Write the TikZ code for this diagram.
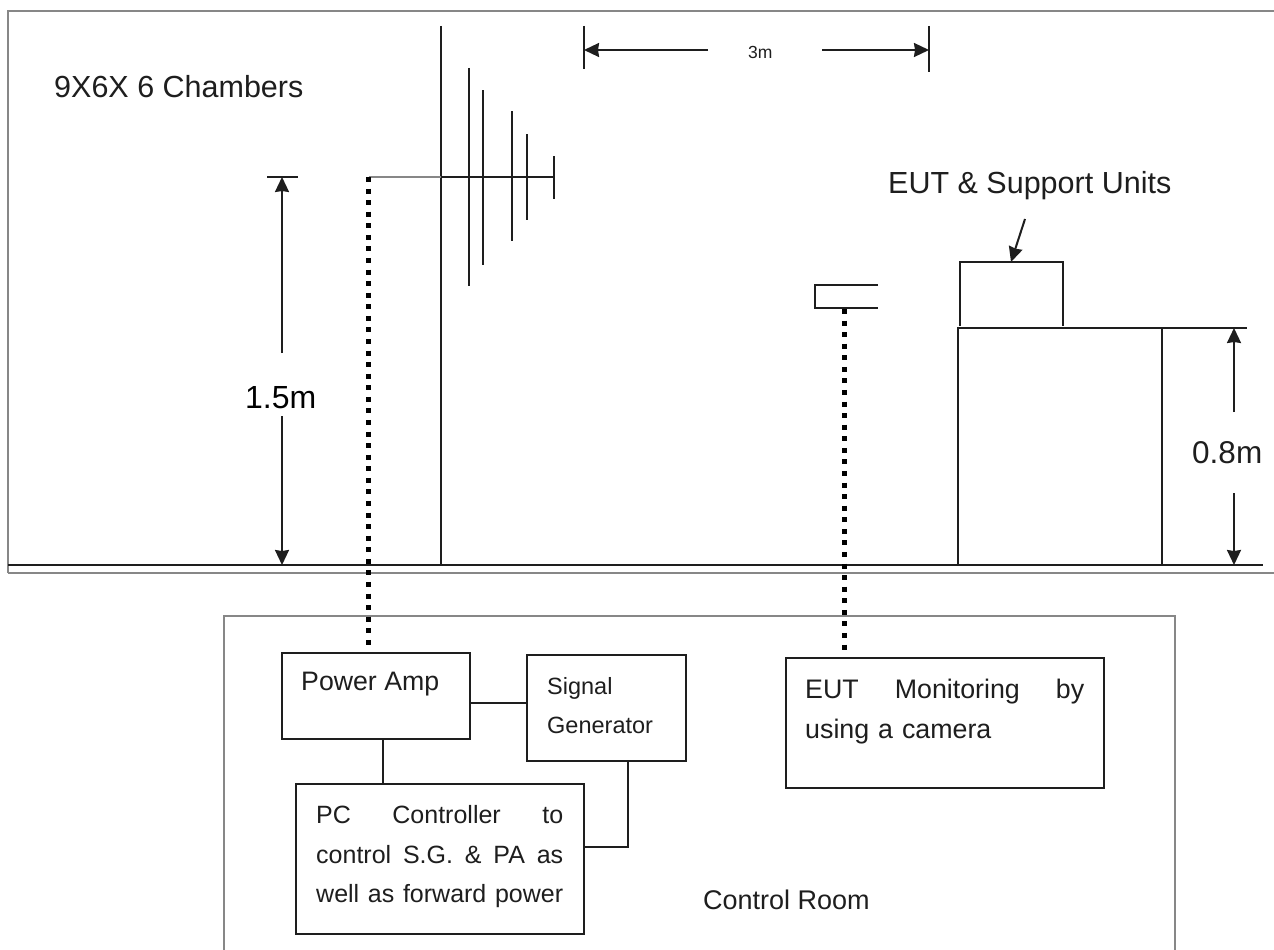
\documentclass[tikz,border=0pt]{standalone}
\usepackage{fontspec}
\setmainfont{Liberation Sans}
\usepackage{tikz}
\usetikzlibrary{arrows.meta}
\definecolor{wallgray}{RGB}{135, 135, 135}
\definecolor{inkblack}{RGB}{30, 30, 30}
\tikzset{
    boxnode/.style={draw=inkblack, line width=2pt, inner sep=0pt, anchor=north west},
    labelnode/.style={color=inkblack, inner sep=0pt, anchor=west},
    wire/.style={draw=inkblack, line width=2pt},
    wallline/.style={draw=wallgray, line width=2pt},
    feedline/.style={line width=5pt, color=black, dash pattern=on 5pt off 6.57pt, line cap=butt},
    dimarrow/.style={draw=inkblack, line width=2pt, -{Stealth[length=15pt, width=14pt, inset=1pt]}},
}
\begin{document}
\begin{tikzpicture}[x=1pt, y=-1pt]
    \useasboundingbox (0, 0) rectangle (1274, 950);
    \fill[white] (0, 0) rectangle (1274, 950);

    % Chamber walls and floor
    \draw[wallline] (8, 573) -- (8, 11) -- (1274, 11);
    \draw[wire] (8, 565) -- (1263, 565);
    \draw[wallline] (8, 573) -- (1274, 573);
    \node[labelnode, font=\fontsize{30.5}{34}\selectfont] (chamberlabel) at (54, 87) {9X6X 6 Chambers};

    % Antenna
    \coordinate (feedtop) at (368.5, 177);
    \draw[wire] (441, 26) -- (441, 565);
    \draw[wallline] (feedtop) -- (441, 177);
    \draw[wire] (441, 177) -- (554, 177);
    \foreach \x/\ytop/\ybot in {469/68/286, 483/90/265, 512/111/241, 527/134/220, 554/156/199} {
        \draw[wire] (\x, \ytop) -- (\x, \ybot);
    }

    % 3m dimension
    \coordinate (leftstop) at (584, 50);
    \coordinate (rightstop) at (929, 50);
    \draw[wire] (584, 26) -- (584, 69);
    \draw[wire] (929, 26) -- (929, 72);
    \node[labelnode, font=\fontsize{17.5}{20}\selectfont] (spacinglabel) at (748, 52) {3m};
    \draw[dimarrow] (708, 50) -- (leftstop);
    \draw[dimarrow] (822, 50) -- (rightstop);

    % 1.5m dimension
    \coordinate (hightop) at (282, 177);
    \coordinate (highbot) at (282, 565);
    \draw[wire] (267, 177) -- (298, 177);
    \node[labelnode, font=\fontsize{32}{36}\selectfont, color=black] (heightlabel) at (245, 398) {1.5m};
    \draw[dimarrow] (282, 353) -- (hightop);
    \draw[dimarrow] (282, 416) -- (highbot);

    % Camera
    \draw[wire] (878, 285) -- (815, 285) -- (815, 308) -- (878, 308);
    \coordinate (cameratop) at (844, 309);

    % EUT and table
    \draw[wire] (960, 326) -- (960, 262) -- (1063, 262) -- (1063, 326);
    \draw[wire] (958, 565) -- (958, 328) -- (1247, 328);
    \draw[wire] (1162, 328) -- (1162, 565);
    \node[labelnode, font=\fontsize{30.5}{34}\selectfont] (eutlabel) at (888, 186) {EUT \& Support Units};
    \draw[dimarrow] (1025, 219) -- (1011, 262);

    % 0.8m dimension
    \node[labelnode, font=\fontsize{31.5}{36}\selectfont] (tablelabel) at (1192, 453) {0.8m};
    \draw[dimarrow] (1234, 412) -- (1234, 328);
    \draw[dimarrow] (1234, 493) -- (1234, 565);

    % Control room
    \draw[wallline] (224, 950) -- (224, 616) -- (1175, 616) -- (1175, 950);
    \node[labelnode, font=\fontsize{27}{30}\selectfont] (roomlabel) at (703, 900) {Control Room};

    % Equipment boxes
    \node[boxnode, minimum width=188pt, minimum height=86pt] (poweramp) at (281, 652) {};
    \node[labelnode, font=\fontsize{26.7}{30}\selectfont] (powerlabel) at (301, 684) {Power Amp};
    \node[boxnode, minimum width=159pt, minimum height=106pt] (siggen) at (526, 654) {};
    \node[labelnode, font=\fontsize{23.5}{27}\selectfont] (siglabela) at (547, 688) {Signal};
    \node[labelnode, font=\fontsize{23.5}{27}\selectfont] (siglabelb) at (547, 725) {Generator};
    \node[boxnode, minimum width=288pt, minimum height=150pt] (pcbox) at (295, 783) {};
    \node[labelnode, font=\fontsize{25}{29}\selectfont, text width=247pt] (pclabel) at (316, 857) {\baselineskip=39.5pt\parfillskip=0pt PC\hfill Controller\hfill to\par control\hfill S.G.\hfill \&\hfill PA\hfill as\par \hbox to 247pt{well\hfill as\hfill forward\hfill power}\par};
    \node[boxnode, minimum width=318pt, minimum height=130pt] (monitorbox) at (785, 657) {};
    \node[labelnode, font=\fontsize{26.8}{30}\selectfont, text width=279pt] (monitorlabel) at (805, 712) {\baselineskip=40pt EUT\hfill Monitoring\hfill by\par using a camera\par};

    % Connections between equipment
    \coordinate (ampbelow) at (383, 739);
    \coordinate (pcabove) at (383, 784);
    \draw[wire] (ampbelow) -- (pcabove);
    \draw[wire] (poweramp.east |- 0, 703) -- (siggen.west |- 0, 703);
    \draw[wire] (628, 761) -- (628, 847) -- (pcbox.east |- 0, 847);

    % Feed lines
    \draw[feedline] (feedtop) -- (368.5, 647);
    \draw[feedline] (cameratop) -- (844, 650);
\end{tikzpicture}
\end{document}
